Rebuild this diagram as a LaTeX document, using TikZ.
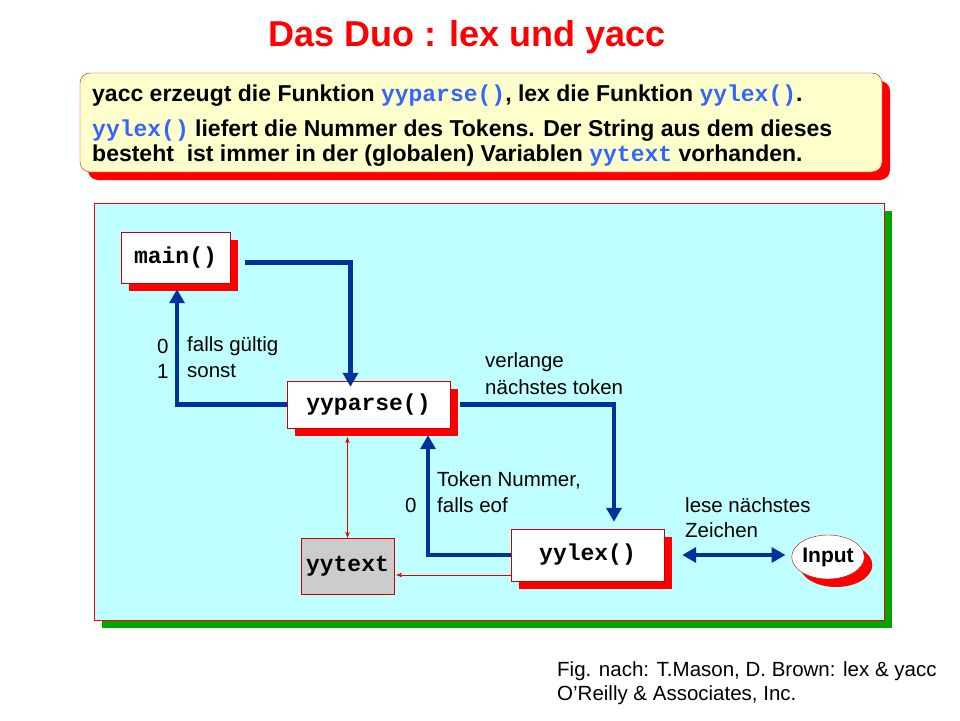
\documentclass[tikz,border=0pt]{standalone}
\usepackage{fontspec}
\setmainfont{Liberation Sans}
\setmonofont{Liberation Mono}
\usetikzlibrary{positioning,arrows.meta,shadows,shapes.geometric}
\definecolor{flowblue}{RGB}{0,51,153}
\definecolor{codeblue}{RGB}{51,102,255}
\definecolor{panelcyan}{RGB}{192,255,255}
\definecolor{noteyellow}{RGB}{255,255,204}
\newcommand{\cd}[1]{{\ttfamily\bfseries\color{codeblue}#1}}
\tikzset{
  redshadow/.style={drop shadow={shadow xshift=8pt,shadow yshift=-8pt,fill=red,opacity=1}},
  func/.style={draw=red!80!black,fill=white,redshadow,font=\fontsize{23}{23}\ttfamily\bfseries},
  flow/.style={draw=flowblue,line width=4.5pt,-{Triangle[length=14pt,width=15pt]}},
  link/.style={draw=red!90!black,thin},
  lbl/.style={font=\fontsize{20.5}{25}\selectfont,anchor=west,inner sep=0pt},
  noteline/.style={anchor=west,inner sep=0pt,font=\fontsize{23}{25}\selectfont\bfseries}
}
\begin{document}
\begin{tikzpicture}[x=1pt,y=-1pt]
\useasboundingbox (0,0) rectangle (960,720);
% title and note
\node[text=red,font=\fontsize{36}{36}\selectfont\bfseries] (title) at (467,37) {Das Duo : lex und yacc};
\node[draw=red,rounded corners=10pt,fill=noteyellow,redshadow,minimum width=802pt,minimum height=99pt] (note) at (481,122.5) {};
\node[noteline] (line1) at (92,96) {yacc erzeugt die Funktion \cd{yyparse()}, lex die Funktion \cd{yylex()}.};
\node[noteline] (line2) at (92,131) {\cd{yylex()} liefert die Nummer des Tokens. Der String aus dem dieses};
\node[noteline] (line3) at (92,156) {besteht\ \ ist immer in der (globalen) Variablen \cd{yytext} vorhanden.};
% panel
\node[draw=red,thin,fill=panelcyan,drop shadow={shadow xshift=8pt,shadow yshift=-8pt,fill=green!65!black,opacity=1},minimum width=790pt,minimum height=417pt] (panel) at (489,411.5) {};
% functions
\node[func,minimum width=109pt,minimum height=51pt] (main) at (175.5,257.5) {main()};
\node[func,minimum width=163pt,minimum height=47pt] (yyparse) at (368.5,404.5) {yyparse()};
\node[func,minimum width=153pt,minimum height=52pt] (yylex) at (587.5,555) {yylex()};
\node[draw=red!80!black,fill=gray!40,minimum width=93pt,minimum height=56pt,font=\fontsize{23}{23}\ttfamily\bfseries] (yytext) at (347.5,566) {yytext};
\node[ellipse,draw=red!80!black,fill=white,redshadow,inner sep=0pt,minimum width=66pt,minimum height=44pt,font=\fontsize{21}{21}\selectfont\bfseries] (input) at (828,557) {Input};
% connectors
\draw[flow] ([xshift=15pt,yshift=-5pt]main.east) -| ([xshift=-18pt,yshift=-6pt]yyparse.north);
\draw[flow] (yyparse.west) -| ([xshift=1.5pt,yshift=-6pt]main.south);
\draw[flow] ([xshift=10pt]yyparse.east) -| ([xshift=26.5pt,yshift=7pt]yylex.north);
\draw[flow] (yylex.west) -| ([xshift=59.5pt,yshift=-7pt]yyparse.south);
\draw[flow,{Triangle[length=14pt,width=15pt]}-{Triangle[length=14pt,width=15pt]}] ([xshift=18pt]yylex.east) -- ([xshift=-6pt]yylex.east -| input.west);
\draw[link,{Stealth[length=6pt]}-{Stealth[length=6pt]}] ([yshift=-9pt]yytext.north |- yyparse.south) -- (yytext.north);
\draw[link,-{Stealth[length=6pt]}] ([yshift=-20pt]yylex.west) -- ([xshift=2pt,yshift=-20pt]yylex.west -| yytext.east);
% labels
\node[lbl] (r0) at (157,346) {0};
\node[lbl] (r1) at (157,371) {1};
\node[lbl] (ok) at (187,346) {falls gültig};
\node[lbl] (else) at (187,371) {sonst};
\node[lbl] (ask1) at (485,362) {verlange};
\node[lbl] (ask2) at (485,387) {nächstes token};
\node[lbl] (tok1) at (437,480) {Token Nummer,};
\node[lbl] (tok2) at (437,505) {falls eof};
\node[lbl] (eof) at (405,505) {0};
\node[lbl] (read1) at (685,505) {lese nächstes};
\node[lbl] (read2) at (685,530) {Zeichen};
\node[lbl] (src1) at (557,671) {Fig. nach: T.Mason, D. Brown: lex \& yacc};
\node[lbl] (src2) at (557,695) {O'Reilly \& Associates, Inc.};
\end{tikzpicture}
\end{document}
